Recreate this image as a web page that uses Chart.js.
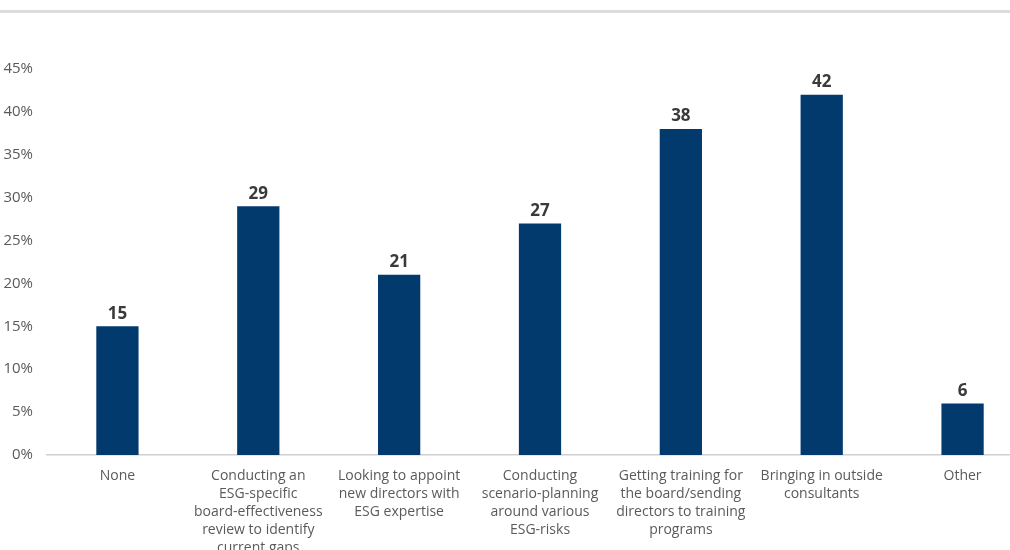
<!DOCTYPE html>
<html>
<head>
<meta charset="utf-8">
<script src="https://cdn.jsdelivr.net/npm/chart.js@4"></script>
<style>
  html, body { margin: 0; padding: 0; background: #fff; overflow: hidden; }
  #wrap { position: relative; width: 1033px; height: 550px; }
  #rule { position: absolute; left: 0; top: 10px; width: 1033px; height: 3px; background: #dcdcdc; }
  canvas { position: absolute; left: 0; top: 0; }
</style>
</head>
<body>
<div id="wrap">
  <div id="rule"></div>
  <canvas id="chart" width="1033" height="550"></canvas>
</div>
<script>
// Categories (multi-line labels) and survey shares in percent
const categories = [
  ["None"],
  ["Conducting an", "ESG-specific", "board-effectiveness", "review to identify", "current gaps"],
  ["Looking to appoint", "new directors with", "ESG expertise"],
  ["Conducting", "scenario-planning", "around various", "ESG-risks"],
  ["Getting training for", "the board/sending", "directors to training", "programs"],
  ["Bringing in outside", "consultants"],
  ["Other"]
];
const shares = [15, 29, 21, 27, 38, 42, 6];
const yTicks = [0, 5, 10, 15, 20, 25, 30, 35, 40, 45];

const FONT = "'Open Sans', 'Liberation Sans', sans-serif";

// Prints each bar's value just above it
const valueLabels = {
  id: 'valueLabels',
  afterDatasetsDraw(chart) {
    const ctx = chart.ctx;
    const meta = chart.getDatasetMeta(0);
    ctx.save();
    ctx.font = "bold 17px " + FONT;
    ctx.fillStyle = '#3a3a3a';
    ctx.textAlign = 'center';
    ctx.textBaseline = 'bottom';
    meta.data.forEach((bar, i) => {
      ctx.fillText(String(shares[i]), bar.x, bar.y - 4);
    });
    ctx.restore();
  }
};

new Chart(document.getElementById('chart'), {
  type: 'bar',
  data: {
    labels: categories,
    datasets: [{
      data: shares,
      backgroundColor: '#023a6e',
      barPercentage: 0.3,
      categoryPercentage: 1
    }]
  },
  options: {
    responsive: false,
    animation: false,
    layout: { padding: { top: 69, right: 0, left: 0, bottom: 0 } },
    plugins: { legend: { display: false }, tooltip: { enabled: false } },
    scales: {
      x: {
        grid: { display: false },
        border: { display: true, color: '#d0d0d0', width: 1.5 },
        ticks: {
          color: '#5a5a5a',
          font: { family: FONT, size: 14, lineHeight: 1.29 },
          padding: 4,
          maxRotation: 0,
          autoSkip: false
        },
        afterFit(scale) { scale.height = 95; }
      },
      y: {
        min: 0,
        max: 45,
        afterBuildTicks(scale) { scale.ticks = yTicks.map(v => ({ value: v })); },
        grid: { display: false },
        border: { display: false },
        ticks: {
          color: '#5a5a5a',
          font: { family: FONT, size: 15 },
          padding: 6,
          callback: v => v + '%'
        },
        afterFit(scale) { scale.width = 47; }
      }
    }
  },
  plugins: [valueLabels]
});
</script>
</body>
</html>
